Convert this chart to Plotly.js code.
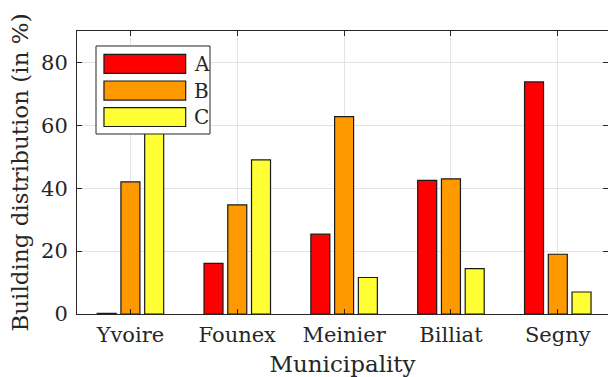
<!DOCTYPE html>
<html>
<head>
<meta charset="utf-8">
<script src="https://cdn.plot.ly/plotly-3.0.1.min.js"></script>
<style>html,body{margin:0;padding:0;background:#fff;}#chart{width:608px;height:377px;}</style>
</head>
<body>
<div id="chart"></div>
<script>
const municipalities = ["Yvoire", "Founex", "Meinier", "Billiat", "Segny"];
const seriesNames = ["A", "B", "C"];
const valuesA = [0.2, 16.1, 25.4, 42.5, 73.8];
const valuesB = [42.0, 34.7, 62.8, 43.0, 19.0];
const valuesC = [57.8, 49.0, 11.6, 14.4, 7.0];
const yTicks = [0, 20, 40, 60, 80];

const colors = ["#ff0000", "#ff9900", "#ffff33"];
const allValues = [valuesA, valuesB, valuesC];
const font = "DejaVu Serif";
const textColor = "#262626";

const traces = allValues.map((vals, i) => ({
  type: "bar",
  name: seriesNames[i],
  x: municipalities,
  y: vals,
  marker: {color: colors[i], line: {color: "#1a1a1a", width: 1.2}},
  showlegend: false,
  hoverinfo: "skip"
}));

const swatchY = [[0.8505, 0.9177], [0.756, 0.8233], [0.6625, 0.729]];
const shapes = [{
  type: "rect", xref: "paper", yref: "paper",
  x0: 0.0358, x1: 0.2505, y0: 0.636, y1: 0.947,
  fillcolor: "#ffffff", line: {color: "#262626", width: 1}, layer: "above"
}];
const annotations = [];
seriesNames.forEach((n, i) => {
  shapes.push({
    type: "rect", xref: "paper", yref: "paper",
    x0: 0.0508, x1: 0.2047, y0: swatchY[i][0], y1: swatchY[i][1],
    fillcolor: colors[i], line: {color: "#1a1a1a", width: 1.2}, layer: "above"
  });
  annotations.push({
    xref: "paper", yref: "paper", x: 0.2175, y: (swatchY[i][0] + swatchY[i][1]) / 2,
    xanchor: "left", yanchor: "middle", showarrow: false, text: n,
    font: {family: font, size: 20, color: textColor}
  });
});

const layout = {
  width: 608, height: 377,
  margin: {l: 77, r: 0, t: 31, b: 63, pad: 0},
  paper_bgcolor: "#ffffff", plot_bgcolor: "#ffffff",
  barmode: "group", bargap: 0.333, bargroupgap: 0.2,
  font: {family: font, color: textColor, size: 21},
  xaxis: {
    type: "category", range: [-0.5, 4.47],
    showline: true, linecolor: "#262626", linewidth: 1, mirror: "ticks",
    ticks: "inside", ticklen: 5, tickcolor: "#262626",
    showgrid: true, gridcolor: "#e3e3e3", gridwidth: 1,
    tickfont: {family: font, size: 21, color: textColor},
    ticklabelstandoff: 2,
    title: {text: "Municipality", font: {family: font, size: 23, color: textColor}, standoff: 12},
    automargin: false
  },
  yaxis: {
    range: [0, 90], tickvals: yTicks, ticktext: yTicks.map(String),
    showline: true, linecolor: "#262626", linewidth: 1, mirror: "ticks",
    ticks: "inside", ticklen: 5, tickcolor: "#262626",
    showgrid: true, gridcolor: "#e3e3e3", gridwidth: 1, zeroline: false,
    tickfont: {family: font, size: 21, color: textColor},
    ticklabelstandoff: 4,
    title: {text: "Building distribution (in %)", font: {family: font, size: 23, color: textColor}, standoff: 6},
    automargin: false
  },
  shapes: shapes,
  annotations: annotations,
  showlegend: false
};

Plotly.newPlot("chart", traces, layout, {displayModeBar: false, staticPlot: true});
</script>
</body>
</html>
